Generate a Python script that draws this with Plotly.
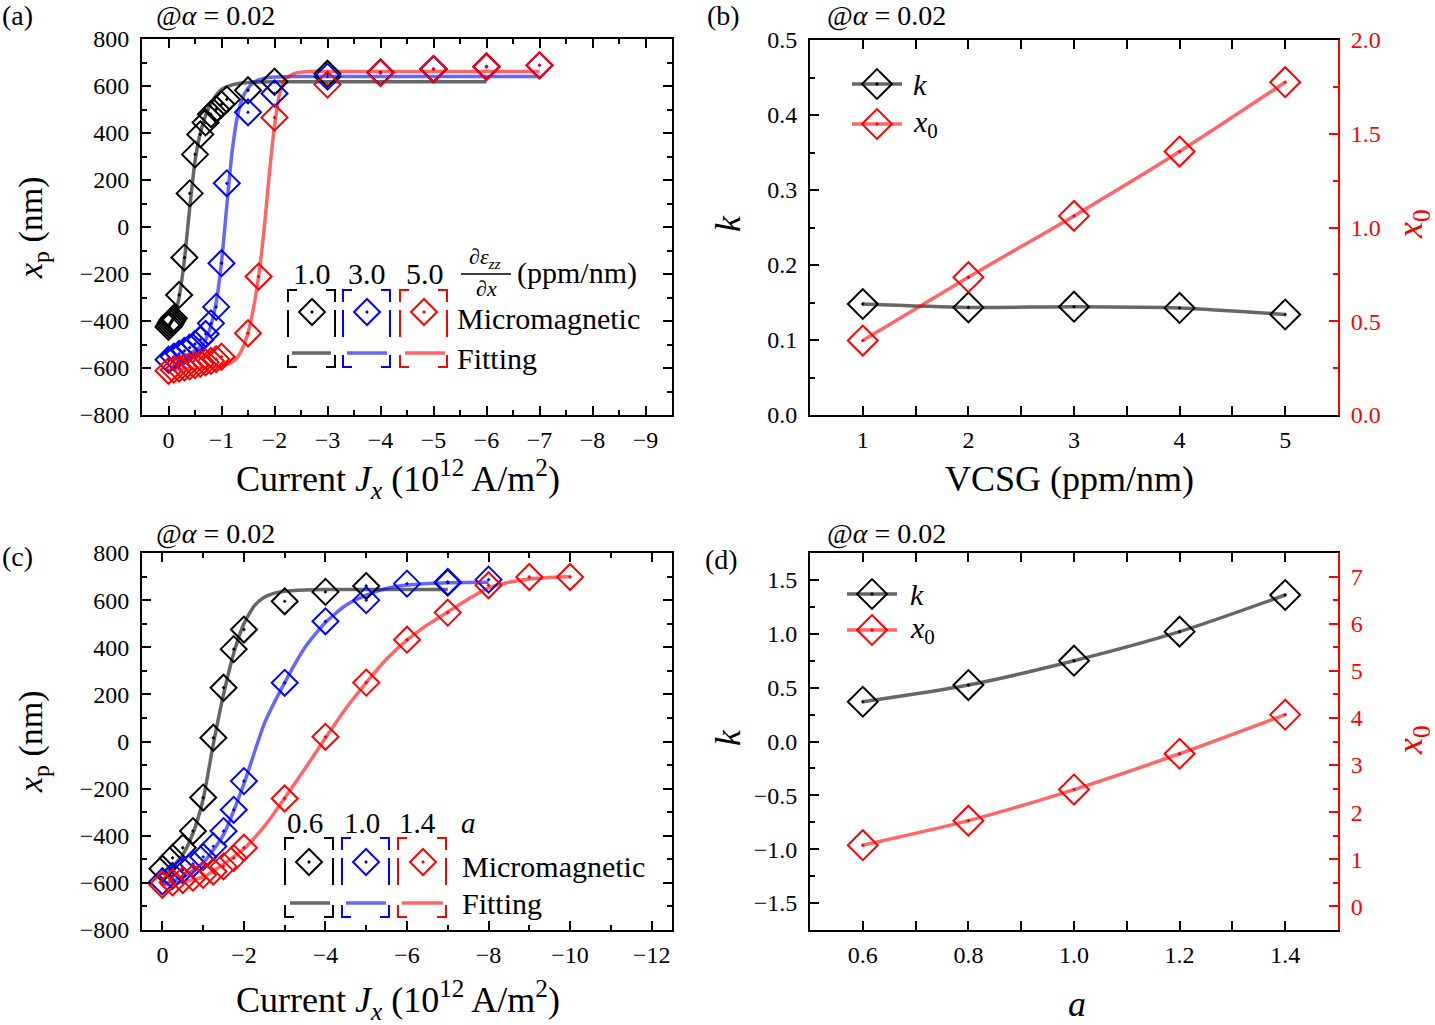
import plotly.graph_objects as go

W, H = 1435, 1025
FONT = "Liberation Serif"

# ---------------- Panel (a) data : VCSG 1.0 / 3.0 / 5.0 ----------------
a_J_black = [0, -0.02, -0.04, -0.06, -0.08, -0.1, -0.2, -0.3, -0.4, -0.5, -0.6, -0.7, -0.8, -0.9, -1.0, -1.1, -1.5, -2, -3, -4, -5, -6]
a_x_black = [-425, -418, -410, -402, -395, -388, -289, -130, 143, 309, 394, 445, 480, 501, 522, 543, 582, 618, 652, 658, 672, 683]
a_J_blue = [0, -0.1, -0.2, -0.3, -0.4, -0.5, -0.6, -0.7, -0.8, -0.9, -1.0, -1.1, -1.5, -2, -3, -4, -5, -6, -7]
a_x_blue = [-565, -552, -540, -527, -513, -498, -480, -455, -410, -340, -154, 186, 488, 568, 640, 656, 672, 682, 688]
a_J_red = [0, -0.1, -0.2, -0.3, -0.4, -0.5, -0.6, -0.7, -0.8, -0.9, -1.0, -1.5, -1.7, -2, -3, -4, -5, -6, -7]
a_x_red = [-612, -607, -602, -598, -593, -588, -582, -576, -570, -562, -552, -452, -211, 466, 606, 656, 672, 682, 688]

a_fitJ_black = [0, -0.1, -0.2, -0.3, -0.4, -0.5, -0.6, -0.7, -0.8, -0.9, -1.0, -1.2, -1.5, -2, -3, -6]
a_fitx_black = [-420, -385, -300, -140, 80, 280, 400, 475, 525, 560, 585, 605, 615, 618, 618, 618]
a_fitJ_blue = [0, -0.2, -0.4, -0.6, -0.7, -0.8, -0.9, -1.0, -1.1, -1.2, -1.3, -1.4, -1.5, -1.6, -1.8, -2.0, -2.5, -3, -7]
a_fitx_blue = [-565, -555, -540, -510, -480, -420, -320, -150, 90, 320, 470, 550, 590, 615, 632, 638, 640, 640, 640]
a_fitJ_red = [0, -0.4, -0.8, -1.0, -1.2, -1.3, -1.4, -1.5, -1.6, -1.7, -1.8, -1.9, -2.0, -2.1, -2.2, -2.4, -2.7, -3, -7]
a_fitx_red = [-606, -602, -596, -590, -575, -555, -515, -450, -350, -210, -20, 220, 430, 570, 630, 655, 662, 662, 662]

# ---------------- Panel (b) data ----------------
b_vcsg = [1, 2, 3, 4, 5]
b_k = [0.148, 0.1435, 0.1444, 0.1428, 0.134]
b_x0 = [0.397, 0.735, 1.062, 1.405, 1.775]

# ---------------- Panel (c) data : a = 0.6 / 1.0 / 1.4 ----------------
c_J_black = [0, -0.25, -0.5, -0.75, -1.0, -1.25, -1.5, -1.75, -2.0, -3, -4, -5, -7]
c_x_black = [-540, -494, -451, -380, -238, 16, 228, 392, 475, 595, 635, 660, 674]
c_J_blue = [0, -0.25, -0.5, -0.75, -1.0, -1.25, -1.5, -1.75, -2.0, -3, -4, -5, -6, -7, -8]
c_x_blue = [-594, -570, -545, -520, -490, -445, -380, -290, -168, 249, 510, 600, 670, 677, 687]
c_J_red = [0, -0.25, -0.5, -0.75, -1.0, -1.25, -1.5, -1.75, -2.0, -3, -4, -5, -6, -7, -8, -9, -10]
c_x_red = [-608, -598, -588, -578, -566, -552, -530, -495, -451, -242, 20, 250, 432, 547, 663, 698, 698]

c_fitJ_black = [0, -0.25, -0.5, -0.75, -1.0, -1.25, -1.5, -1.75, -2.0, -2.25, -2.5, -2.75, -3, -3.5, -4, -7]
c_fitx_black = [-565, -530, -480, -390, -245, -10, 200, 375, 500, 575, 612, 630, 638, 643, 645, 645]
c_fitJ_blue = [0, -0.5, -1.0, -1.5, -2.0, -2.5, -3.0, -3.5, -4.0, -4.5, -5.0, -5.5, -6, -7, -8]
c_fitx_blue = [-605, -575, -515, -395, -180, 76, 250, 400, 505, 578, 621, 650, 664, 674, 676]
c_fitJ_red = [0, -1, -2, -2.5, -3, -3.5, -4, -4.5, -5, -5.5, -6, -6.5, -7, -7.5, -8, -8.5, -9, -10]
c_fitx_red = [-610, -575, -455, -360, -240, -115, 15, 140, 250, 350, 430, 495, 550, 604, 652, 676, 690, 700]

# ---------------- Panel (d) data ----------------
d_a = [0.6, 0.8, 1.0, 1.2, 1.4]
d_k = [0.369, 0.524, 0.750, 1.020, 1.360]
d_x0 = [1.30, 1.82, 2.48, 3.24, 4.07]

# legend labels
a_labels = ["1.0", "3.0", "5.0"]
c_labels = ["0.6", "1.0", "1.4"]

MK = {"black": "#000000", "blue": "#0000ff", "red": "#ff0000"}
LN = {"black": "rgba(0,0,0,0.6)", "blue": "rgba(0,0,255,0.6)", "red": "rgba(255,0,0,0.6)"}

fig = go.Figure()


def fit(x, y, c, xa, ya):
    fig.add_trace(go.Scatter(x=x, y=y, mode="lines", xaxis=xa, yaxis=ya, showlegend=False,
                             line=dict(color=LN[c], width=3.5, shape="spline", smoothing=0.6),
                             hoverinfo="skip"))


def pts(x, y, c, xa, ya, size=20):
    fig.add_trace(go.Scatter(x=x, y=y, mode="markers", xaxis=xa, yaxis=ya, showlegend=False,
                             marker=dict(symbol="diamond-open-dot", size=size, color=MK[c],
                                         line=dict(width=2, color=MK[c]))))


# panel (a)
fit(a_fitJ_black, a_fitx_black, "black", "x", "y")
fit(a_fitJ_blue, a_fitx_blue, "blue", "x", "y")
fit(a_fitJ_red, a_fitx_red, "red", "x", "y")
pts(a_J_black, a_x_black, "black", "x", "y")
pts(a_J_blue, a_x_blue, "blue", "x", "y")
pts(a_J_red, a_x_red, "red", "x", "y")

# panel (c)
fit(c_fitJ_black, c_fitx_black, "black", "x3", "y3")
fit(c_fitJ_blue, c_fitx_blue, "blue", "x3", "y3")
fit(c_fitJ_red, c_fitx_red, "red", "x3", "y3")
pts(c_J_black, c_x_black, "black", "x3", "y3")
pts(c_J_blue, c_x_blue, "blue", "x3", "y3")
pts(c_J_red, c_x_red, "red", "x3", "y3")


def kline(x, y, c, xa, ya):
    fig.add_trace(go.Scatter(x=x, y=y, mode="lines+markers", xaxis=xa, yaxis=ya, showlegend=False,
                             line=dict(color=LN[c], width=3.5, shape="spline", smoothing=0.8),
                             marker=dict(symbol="diamond-open-dot", size=23, color=MK[c],
                                         line=dict(width=2, color=MK[c]))))


kline(b_vcsg, b_k, "black", "x2", "y2")
kline(b_vcsg, b_x0, "red", "x2", "y5")
kline(d_a, d_k, "black", "x4", "y4")
kline(d_a, d_x0, "red", "x4", "y6")

# ---------------- overlay pixel-space axis for legends & labels ----------------
def legend_row_marker(xs, y, colors, size=20):
    for x, c in zip(xs, colors):
        fig.add_trace(go.Scatter(x=[x], y=[y], mode="markers", xaxis="x7", yaxis="y7", showlegend=False,
                                 marker=dict(symbol="diamond-open-dot", size=size, color=MK[c],
                                             line=dict(width=2, color=MK[c])), hoverinfo="skip"))


def legend_row_line(segs, y, colors, with_marker=False):
    for (x0, x1), c in zip(segs, colors):
        fig.add_trace(go.Scatter(x=[x0, x1], y=[y, y], mode="lines", xaxis="x7", yaxis="y7", showlegend=False,
                                 line=dict(color=LN[c], width=3.5), hoverinfo="skip"))
        if with_marker:
            legend_row_marker([(x0 + x1) / 2], y, [c], size=23)


cols = ["black", "blue", "red"]
# (a) legend
legend_row_marker([312, 367, 424], 312, cols)
legend_row_line([(292, 331), (347, 387), (405, 445)], 353, cols)
# (c) legend
legend_row_marker([309, 366, 423], 862, cols)
legend_row_line([(290, 330), (346, 386), (402, 443)], 903, cols)
# (b), (d) legends
legend_row_line([(852, 902)], 84, ["black"], True)
legend_row_line([(852, 902)], 124, ["red"], True)
legend_row_line([(847, 897)], 594, ["black"], True)
legend_row_line([(847, 897)], 630, ["red"], True)

shapes = []


def bracket_box(x0, x1, y0, y1, color):
    h, v = 9, 12
    segs = [
        (x0, y0 + v, x0, y0, x0 + h, y0),
        (x1 - h, y0, x1, y0, x1, y0 + v),
        (x0, y1 - v, x0, y1, x0 + h, y1),
        (x1 - h, y1, x1, y1, x1, y1 - v),
    ]
    for s in segs:
        shapes.append(dict(type="path", xref="x7", yref="y7",
                           path=f"M{s[0]},{s[1]} L{s[2]},{s[3]} L{s[4]},{s[5]}",
                           line=dict(color=color, width=2)))
    for xx in (x0, x1):
        shapes.append(dict(type="line", xref="x7", yref="y7", x0=xx, x1=xx, y0=y0 + 20, y1=y0 + 47,
                           line=dict(color=color, width=2)))


for (x0, x1), c in zip([(288, 335), (343, 390), (400, 447)], cols):
    bracket_box(x0, x1, 290, 367, MK[c])
for (x0, x1), c in zip([(285, 333), (342, 389), (398, 446)], cols):
    bracket_box(x0, x1, 838, 917, MK[c])

# fraction bar in legend (a)
shapes.append(dict(type="line", xref="x7", yref="y7", x0=461, x1=511, y0=274, y1=274,
                   line=dict(color="black", width=1.5)))

ann = []


def text(x, y, s, size=22, color="black", xanchor="center", angle=0):
    ann.append(dict(x=x, y=y, xref="x7", yref="y7", text=s, showarrow=False, xanchor=xanchor,
                    yanchor="middle", textangle=angle, font=dict(family=FONT, size=size, color=color)))


# panel labels and alpha notes
for (x, y, s) in [(17, 15, "(a)"), (723, 15, "(b)"), (17, 556, "(c)"), (721, 559, "(d)")]:
    text(x, y, s, 28)
for (x, y) in [(215, 15), (886, 15), (215, 533), (886, 533)]:
    text(x, y, "@<i>α</i> = 0.02", 28)

# axis titles
XT = "Current <i>J<sub>x</sub></i> (10<sup>12</sup> A/m<sup>2</sup>)"
text(398, 479, XT, 36)
text(398, 1000, XT, 36)
text(33, 228, "<i>x</i><sub>p</sub> (nm)", 34, angle=-90)
text(33, 742, "<i>x</i><sub>p</sub> (nm)", 34, angle=-90)
text(1069, 479, "VCSG (ppm/nm)", 36)
text(1077, 1004, "<i>a</i>", 36)
text(728, 224, "<i>k</i>", 36, angle=-90)
text(728, 738, "<i>k</i>", 36, angle=-90)
text(1412, 224, "<i>x</i><sub>0</sub>", 36, color="red", angle=-90)
text(1412, 740, "<i>x</i><sub>0</sub>", 36, color="red", angle=-90)

# legend (a) texts
for x, s in zip([312, 367, 425], a_labels):
    text(x, 273, s, 30)
text(485, 258, "∂<i>ε</i><sub><i>zz</i></sub>", 22)
text(486, 288, "∂<i>x</i>", 22)
text(515, 273, "(ppm/nm)", 30, xanchor="left")
text(455, 318, "Micromagnetic", 30, xanchor="left")
text(455, 358, "Fitting", 30, xanchor="left")
# legend (c) texts
for x, s in zip([305, 362, 417], c_labels):
    text(x, 823, s, 29)
text(468, 823, "<i>a</i>", 29)
text(460, 866, "Micromagnetic", 30, xanchor="left")
text(460, 903, "Fitting", 30, xanchor="left")
# legend (b)/(d) texts
text(911, 84, "<i>k</i>", 30, xanchor="left")
text(911, 124, "<i>x</i><sub>0</sub>", 30, xanchor="left")
text(908, 594, "<i>k</i>", 30, xanchor="left")
text(908, 630, "<i>x</i><sub>0</sub>", 30, xanchor="left")


def dom_x(p0, p1):
    return [p0 / W, p1 / W]


def dom_y(p0, p1):
    return [1 - p1 / H, 1 - p0 / H]


TF = dict(family=FONT, size=24, color="black")


def axis(domain, rng, dtick, minor, anchor, tick0=0, fmt=None, mirror="allticks", color="black",
         side=None, overlaying=None, tickfont=TF, standoff=6):
    d = dict(domain=domain, range=rng, dtick=dtick, tick0=tick0, ticks="inside", ticklen=9,
             tickwidth=1.5, tickcolor=color, showline=True, linecolor=color, linewidth=2,
             mirror=mirror, showgrid=False, zeroline=False, anchor=anchor, tickfont=tickfont,
             minor=dict(dtick=minor, tick0=tick0, ticks="inside", ticklen=5, tickwidth=1.5,
                        tickcolor=color, showgrid=False),
             ticklabelstandoff=standoff, fixedrange=True, automargin=False)
    if fmt:
        d["tickformat"] = fmt
    if side:
        d["side"] = side
    if overlaying:
        d["overlaying"] = overlaying
    if domain is None:
        del d["domain"]
    return d


xa_dom, xb_dom = dom_x(142, 672), dom_x(810, 1338)
ytop, ybot = dom_y(39, 415), dom_y(553, 930)
TFred = dict(family=FONT, size=24, color="red")

fig.update_layout(
    template="none",
    width=W, height=H, autosize=False,
    margin=dict(l=0, r=0, t=0, b=0, pad=0),
    paper_bgcolor="white", plot_bgcolor="rgba(0,0,0,0)",
    showlegend=False,
    xaxis=axis(xa_dom, [0.5, -9.5], 1, 0.5, "y", standoff=2),
    yaxis=axis(ytop, [-800, 800], 200, 100, "x"),
    xaxis2=axis(xb_dom, [0.5, 5.5], 1, 0.5, "y2", standoff=2),
    yaxis2=axis(dom_y(40, 415), [0, 0.5], 0.1, 0.05, "x2", fmt=".1f", mirror=False),
    yaxis5=axis(None, [0, 2.0], 0.5, 0.25, "x2", fmt=".1f", mirror=False, color="red",
                side="right", overlaying="y2", tickfont=TFred),
    xaxis3=axis(xa_dom, [0.5, -12.5], 2, 1, "y3", standoff=2),
    yaxis3=axis(ybot, [-800, 800], 200, 100, "x3"),
    xaxis4=axis(xb_dom, [0.5, 1.5], 0.2, 0.1, "y4", tick0=0.6, fmt=".1f", standoff=2),
    yaxis4=axis(ybot, [-1.75, 1.75], 0.5, 0.25, "x4", fmt=".1f", mirror=False),
    yaxis6=axis(None, [-0.5, 7.5], 1, 0.5, "x4", mirror=False, color="red",
                side="right", overlaying="y4", tickfont=TFred),
    xaxis7=dict(domain=[0, 1], range=[0, W], visible=False, fixedrange=True, anchor="y7", automargin=False),
    yaxis7=dict(domain=[0, 1], range=[H, 0], visible=False, fixedrange=True, anchor="x7", automargin=False),
    shapes=shapes,
    annotations=ann,
)

fig.write_html("out.html", config={"displayModeBar": False},
               post_script="document.body.style.margin='0';document.documentElement.style.overflow='hidden';")
